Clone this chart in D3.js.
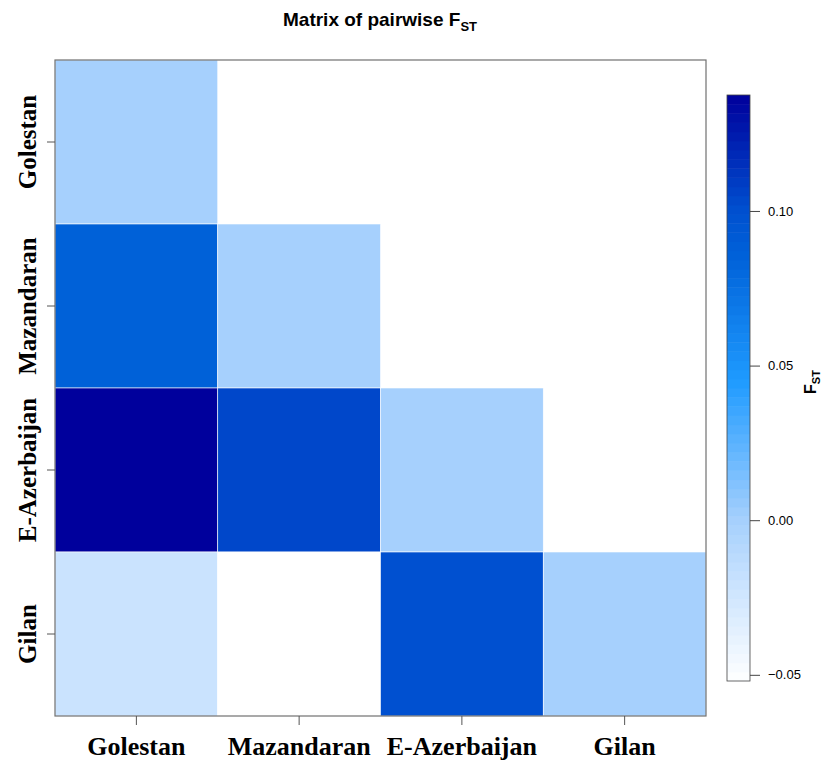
<!DOCTYPE html>
<html><head><meta charset="utf-8">
<script src="https://cdn.jsdelivr.net/npm/d3@7"></script>
<style>body{margin:0;background:#fff}</style>
</head><body>
<svg id="c" width="825" height="763"></svg>
<script>
const populations = ["Golestan","Mazandaran","E-Azerbaijan","Gilan"];
// lower-triangle pairwise FST: row population, column population, value
const rowPop = ["Golestan","Mazandaran","Mazandaran","E-Azerbaijan","E-Azerbaijan","E-Azerbaijan","Gilan","Gilan","Gilan","Gilan"];
const colPop = ["Golestan","Golestan","Mazandaran","Golestan","Mazandaran","E-Azerbaijan","Golestan","Mazandaran","E-Azerbaijan","Gilan"];
const fstValues = [0.0, 0.086, 0.0, 0.1375, 0.104, 0.0, -0.021, -0.052, 0.100, 0.0];
const colorTicks = [-0.05, 0.00, 0.05, 0.10];
const colorDomain = [-0.052, 0.1375];
const colorStopValues = [-0.052, 0.0, 0.045, 0.085, 0.10, 0.1375];
const colorStops = ["#ffffff", "#a6d0fd", "#1f9bff", "#0062d9", "#0050d0", "#00009c"];

const svg = d3.select("#c");
const L = 55, R = 706, T = 60, B = 716;
const x = d3.scaleBand().domain(populations).range([L, R]);
const y = d3.scaleBand().domain(populations).range([T, B]);
const col = d3.scaleLinear().domain(colorStopValues).range(colorStops).interpolate(d3.interpolateRgb);

const cells = rowPop.map((r,i)=>({r, c: colPop[i], v: fstValues[i]}));
svg.append("g").selectAll("rect").data(cells).join("rect")
  .attr("x", d=>x(d.c)).attr("y", d=>y(d.r))
  .attr("width", x.bandwidth()).attr("height", y.bandwidth())
  .attr("fill", d=>col(d.v)).attr("stroke","#fff").attr("stroke-width",0.6);

svg.append("rect").attr("x",L).attr("y",T).attr("width",R-L).attr("height",B-T)
  .attr("fill","none").attr("stroke","#707070").attr("stroke-width",1.2);

// axes
const serif = "'Liberation Serif','Times New Roman',serif";
const gx = svg.append("g").attr("transform",`translate(0,${B})`)
  .call(d3.axisBottom(x).tickSize(9).tickPadding(12));
gx.select(".domain").remove();
gx.selectAll("line").attr("stroke","#555");
gx.selectAll("text").attr("font-family",serif).attr("font-weight","bold").attr("font-size",26).attr("fill","#000")
  .attr("dy","0.68em");
const gy = svg.append("g").attr("transform",`translate(${L},0)`)
  .call(d3.axisLeft(y).tickSize(8).tickPadding(0));
gy.select(".domain").remove();
gy.selectAll("line").attr("stroke","#555");
gy.selectAll("text").attr("font-family",serif).attr("font-weight","bold").attr("font-size",25).attr("fill","#000")
  .attr("text-anchor","middle").attr("x",0).attr("dy",0)
  .attr("transform", "translate(-19,0) rotate(-90)");

// title
const title = svg.append("text").attr("x",380).attr("y",26).attr("text-anchor","middle")
  .attr("font-family","'Liberation Sans',Arial,sans-serif").attr("font-weight","bold").attr("font-size",19);
title.append("tspan").text("Matrix of pairwise F");
title.append("tspan").text("ST").attr("font-size",13).attr("dy",5);

// colorbar
const cbX = 727, cbW = 23, cbT = 95, cbB = 681;
const cy = d3.scaleLinear().domain(colorDomain).range([cbB, cbT]);
const nBins = 64;
const bins = d3.range(nBins).map(i=>colorDomain[0] + (colorDomain[1]-colorDomain[0])*i/nBins);
const step = (colorDomain[1]-colorDomain[0])/nBins;
svg.append("g").selectAll("rect").data(bins).join("rect")
  .attr("x",cbX).attr("width",cbW)
  .attr("y",d=>cy(d+step)).attr("height",d=>cy(d)-cy(d+step)+0.5)
  .attr("fill",d=>col(d+step/2));
svg.append("rect").attr("x",cbX).attr("y",cbT).attr("width",cbW).attr("height",cbB-cbT)
  .attr("fill","none").attr("stroke","#444").attr("stroke-width",0.8);
const ga = svg.append("g").attr("transform",`translate(${cbX+cbW},0)`)
  .call(d3.axisRight(cy).tickValues(colorTicks).tickFormat(d3.format(".2f")).tickSize(10).tickPadding(8));
ga.select(".domain").remove();
ga.selectAll("line").attr("stroke","#444");
ga.selectAll("text").attr("font-family","'Liberation Sans',Arial,sans-serif").attr("font-size",13).attr("fill","#000");

const lab = svg.append("text").attr("transform","translate(816,382) rotate(-90)").attr("text-anchor","middle")
  .attr("font-family","'Liberation Sans',Arial,sans-serif").attr("font-weight","bold").attr("font-size",16);
lab.append("tspan").text("F");
lab.append("tspan").text("ST").attr("font-size",11).attr("dy",4);
</script>
</body></html>
